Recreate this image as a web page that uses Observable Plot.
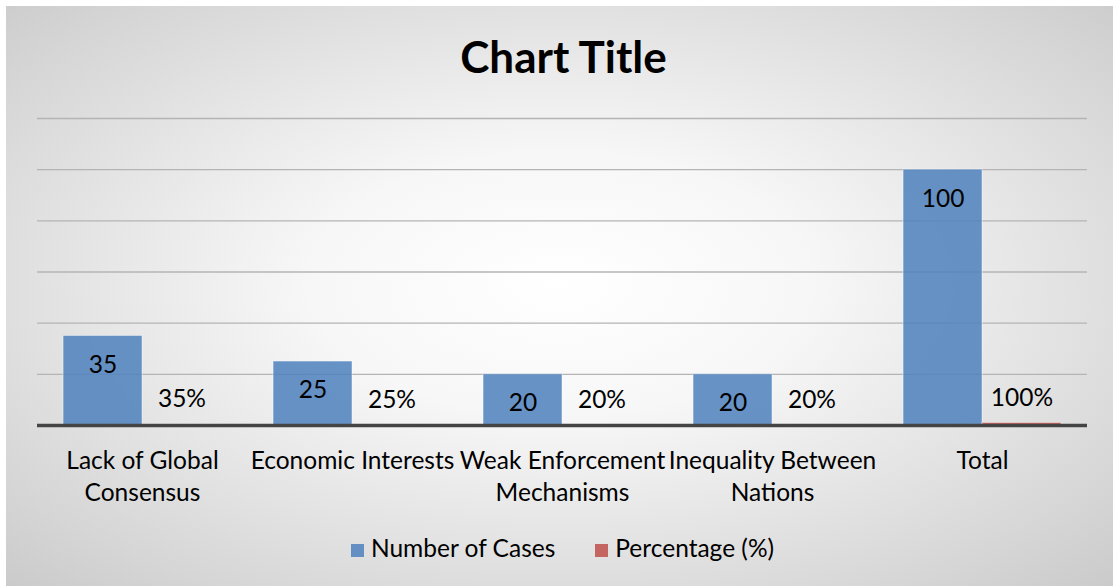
<!DOCTYPE html>
<html>
<head>
<meta charset="utf-8">
<script src="https://cdn.jsdelivr.net/npm/d3@7"></script>
<script src="https://cdn.jsdelivr.net/npm/@observablehq/plot@0.6"></script>
<style>
  html, body { margin: 0; padding: 0; background: #ffffff; }
  #wrap {
    position: absolute; left: 6px; top: 6px; width: 1107px; height: 580px;
    background: radial-gradient(ellipse 75% 75% at 50% 48%, #ffffff 0%, #f7f7f7 30%, #d6d6d6 80%, #c8c8c8 100%);
    font-family: Lato, "Open Sans", sans-serif; color: #000;
    overflow: hidden;
  }
  #title {
    position: absolute; left: 0; top: 26px; width: 100%; text-align: center;
    font-size: 44px; font-weight: bold; line-height: 48px; padding-left: 8px; box-sizing: border-box;
  }
  #chart { position: absolute; left: 0; top: 94px; }
  #legend {
    position: absolute; left: 0; top: 527px; width: 100%; text-align: center;
    font-size: 24.5px; line-height: 30px; padding-left: 6px; box-sizing: border-box;
  }
  .sw { display: inline-block; width: 13px; height: 13px; margin-right: 7px; vertical-align: 0px; }
  .item { display: inline-block; margin: 0 20px; }
</style>
</head>
<body>
<div id="wrap">
  <div id="title">Chart Title</div>
  <div id="chart"></div>
  <div id="legend"></div>
</div>
<script>
const categories = ["Lack of Global Consensus", "Economic Interests", "Weak Enforcement Mechanisms", "Inequality Between Nations", "Total"];
const categoryLabels = ["Lack of Global\nConsensus", "Economic Interests", "Weak Enforcement\nMechanisms", "Inequality Between\nNations", "Total"];
const series = ["Number of Cases", "Percentage (%)"];
const numberOfCases = [35, 25, 20, 20, 100];
const percentage = [0.35, 0.25, 0.20, 0.20, 1.00];
const seriesColors = ["#4f81bd", "#c0504d"];
const yTicks = [0, 20, 40, 60, 80, 100, 120];

const rows = [];
categories.forEach((c, i) => {
  rows.push({category: c, series: series[0], value: numberOfCases[i], label: String(numberOfCases[i])});
  rows.push({category: c, series: series[1], value: percentage[i], label: Math.round(percentage[i] * 100) + "%"});
});
const labelOf = new Map(categories.map((c, i) => [c, categoryLabels[i]]));

const font = "Lato, 'Open Sans', sans-serif";
const fs = 24.5;
const chart = Plot.plot({
  width: 1107,
  height: 420,
  marginLeft: 31,
  marginRight: 26,
  marginTop: 18,
  marginBottom: 95,
  style: {background: "transparent", fontFamily: font, fontSize: fs + "px", color: "#000"},
  fx: {domain: categories, padding: 0, label: null},
  x: {domain: series, paddingInner: 0, paddingOuter: 0.33, round: false, axis: null},
  y: {domain: [0, 120], axis: null},
  color: {domain: series, range: seriesColors},
  marks: [
    Plot.ruleY(yTicks.filter(d => d > 0), {stroke: "#b4b4b4", strokeWidth: 1.3}),
    Plot.barY(rows, {fx: "category", x: "series", y: "value", fill: "series", fillOpacity: 0.86, stroke: "#ffffff", strokeOpacity: 0.45, strokeWidth: 1}),
    Plot.ruleY([0], {stroke: "#444444", strokeWidth: 3.5}),
    Plot.text(rows.filter(d => d.series === series[0]), {fx: "category", x: "series", y: "value", text: "label", dy: 29, lineAnchor: "middle", fill: "#000", fontSize: fs}),
    Plot.text(rows.filter(d => d.series === series[1]), {fx: "category", x: "series", y: "value", text: "label", dy: -25, lineAnchor: "middle", fill: "#000", fontSize: fs}),
    Plot.axisFx({anchor: "bottom", tickSize: 0, tickPadding: 21, label: null, tickFormat: d => labelOf.get(d), lineHeight: 1.3, fontSize: fs, fill: "#000"})
  ]
});
document.getElementById("chart").appendChild(chart);

const legend = document.getElementById("legend");
series.forEach((s, i) => {
  const item = document.createElement("span");
  item.className = "item";
  const sw = document.createElement("span");
  sw.className = "sw";
  sw.style.background = seriesColors[i];
  sw.style.opacity = 0.86;
  item.appendChild(sw);
  item.appendChild(document.createTextNode(s));
  legend.appendChild(item);
});
</script>
</body>
</html>
